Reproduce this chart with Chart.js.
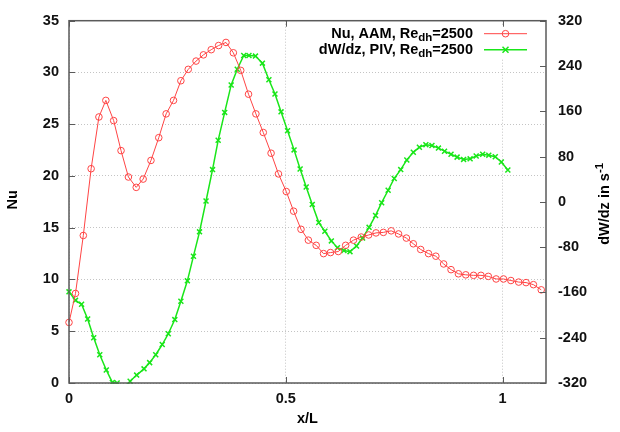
<!DOCTYPE html>
<html>
<head>
<meta charset="utf-8">
<title>Nu e dW/dz ao longo de x/L</title>
<script src="https://cdn.jsdelivr.net/npm/chart.js@4.4.1/dist/chart.umd.min.js"></script>
<style>
  body { margin: 0; background: #fff; }
  #caixa { width: 620px; height: 432px; }
</style>
</head>
<body>
<div id="caixa"><canvas id="grafico"></canvas></div>
<script>
// Nu (AAM)
const xNu = [0.000, 0.015, 0.033, 0.051, 0.069, 0.085, 0.103, 0.120, 0.137, 0.155,
  0.171, 0.189, 0.207, 0.224, 0.241, 0.258, 0.275, 0.293, 0.310, 0.328,
  0.345, 0.362, 0.379, 0.396, 0.414, 0.431, 0.448, 0.466, 0.483, 0.501,
  0.518, 0.535, 0.552, 0.570, 0.587, 0.603, 0.621, 0.638, 0.656, 0.674,
  0.691, 0.708, 0.725, 0.743, 0.760, 0.778, 0.794, 0.811, 0.829, 0.846,
  0.864, 0.881, 0.898, 0.915, 0.933, 0.950, 0.967, 0.985, 1.002, 1.019,
  1.037, 1.054, 1.071, 1.089];
const valoresNu = [5.85, 8.65, 14.25, 20.7, 25.7, 27.3, 25.35, 22.45, 19.9, 18.9,
  19.7, 21.5, 23.7, 26.0, 27.3, 29.2, 30.3, 31.1, 31.7, 32.2,
  32.6, 32.9, 31.9, 30.2, 27.9, 26.0, 24.2, 22.2, 20.2, 18.5,
  16.6, 14.85, 13.8, 13.3, 12.5, 12.6, 12.7, 13.3, 13.8, 14.1,
  14.3, 14.5, 14.55, 14.7, 14.4, 14.0, 13.45, 12.9, 12.5, 12.25,
  11.5, 10.95, 10.55, 10.45, 10.4, 10.4, 10.3, 10.05, 10.05, 9.9,
  9.75, 9.7, 9.5, 9.0];

// dW/dz (PIV) em 1/s
const xDwdz = [0.000, 0.015, 0.029, 0.043, 0.057, 0.071, 0.086, 0.100, 0.111, 0.126,
  0.141, 0.156, 0.173, 0.186, 0.200, 0.215, 0.229, 0.244, 0.258, 0.273,
  0.287, 0.301, 0.316, 0.331, 0.344, 0.359, 0.374, 0.388, 0.403, 0.415,
  0.430, 0.446, 0.461, 0.475, 0.489, 0.504, 0.519, 0.533, 0.547, 0.561,
  0.576, 0.590, 0.605, 0.619, 0.634, 0.648, 0.663, 0.677, 0.692, 0.707,
  0.721, 0.736, 0.750, 0.765, 0.779, 0.794, 0.808, 0.823, 0.837, 0.852,
  0.866, 0.881, 0.895, 0.910, 0.925, 0.939, 0.954, 0.968, 0.983, 0.997,
  1.012];
const valoresDwdz = [-159, -174, -181, -207, -240, -270, -297, -319, -320, -330,
  -317, -306, -295, -284, -270, -252, -233, -208, -175.5, -139.5,
  -96, -53, 1.5, 57, 108.7, 158, 206.5, 234.3, 258.6, 258.6,
  257.5, 245, 215.6, 190.4, 159, 125.6, 91.8, 58, 26.3, -4.5,
  -36.6, -52, -69, -81, -86, -88, -78, -64, -45, -24,
  -1.5, 20.5, 41.3, 57, 74, 87.5, 96.5, 101, 99.5, 95,
  89.5, 84, 79, 75, 76, 80.9, 84, 82.5, 79.7, 70.5,
  56.3];

const ticksX = [0, 0.5, 1];
const ticksNu = [0, 5, 10, 15, 20, 25, 30, 35];
const ticksDwdz = [-320, -240, -160, -80, 0, 80, 160, 240, 320];

const corVermelho = '#ff4444';
const corVerde = '#19e619';
const corBorda = '#5a5a5a';
const fonte = 'bold 14.5px "Liberation Sans", Arial, sans-serif';
const fonteMenor = 'bold 11.5px "Liberation Sans", Arial, sans-serif';

// escreve texto com indice (sub) ou expoente (sup)
function escreverPartes(ctx, partes, x, y, alinhar) {
  let total = 0;
  partes.forEach(p => {
    ctx.font = p.tipo ? fonteMenor : fonte;
    p.w = ctx.measureText(p.t).width;
    total += p.w;
  });
  let cx = alinhar === 'right' ? x - total : (alinhar === 'center' ? x - total / 2 : x);
  ctx.textAlign = 'left';
  ctx.textBaseline = 'middle';
  partes.forEach(p => {
    ctx.font = p.tipo ? fonteMenor : fonte;
    let dy = 0;
    if (p.tipo === 'sub') dy = 4;
    if (p.tipo === 'sup') dy = -5;
    ctx.fillText(p.t, cx, y + dy);
    cx += p.w;
  });
}

function desenharMarcador(ctx, estilo, x, y, cor) {
  ctx.strokeStyle = cor;
  ctx.beginPath();
  if (estilo === 'circle') {
    ctx.lineWidth = 1;
    ctx.arc(x, y, 3.3, 0, Math.PI * 2);
  } else {
    ctx.lineWidth = 1.5;
    ctx.moveTo(x - 3, y - 3); ctx.lineTo(x + 3, y + 3);
    ctx.moveTo(x + 3, y - 3); ctx.lineTo(x - 3, y + 3);
  }
  ctx.stroke();
}

const molduraPlugin = {
  id: 'moldura',
  afterDraw(chart) {
    const ctx = chart.ctx;
    const a = chart.chartArea;
    const sx = chart.scales.x, sy = chart.scales.y, sy2 = chart.scales.y2;
    ctx.save();

    // legenda
    ctx.fillStyle = '#fff';
    ctx.fillRect(a.right - 222, a.top + 5, 216, 33);
    chart.data.datasets.forEach((ds, i) => {
      const ly = a.top + 13 + i * 16;
      ctx.fillStyle = '#000';
      escreverPartes(ctx, ds.partesLegenda, a.right - 73, ly, 'right');
      ctx.strokeStyle = ds.borderColor;
      ctx.lineWidth = ds.borderWidth;
      ctx.beginPath();
      ctx.moveTo(a.right - 62, ly);
      ctx.lineTo(a.right - 19, ly);
      ctx.stroke();
      desenharMarcador(ctx, ds.pointStyle, a.right - 40.5, ly, ds.borderColor);
    });

    // moldura e marcas para dentro
    ctx.strokeStyle = corBorda;
    ctx.lineWidth = 1;
    ctx.beginPath();
    ticksX.forEach(v => {
      const px = Math.round(sx.getPixelForValue(v)) + 0.5;
      ctx.moveTo(px, a.bottom); ctx.lineTo(px, a.bottom - 6);
      ctx.moveTo(px, a.top); ctx.lineTo(px, a.top + 6);
    });
    ticksNu.forEach(v => {
      const py = Math.round(sy.getPixelForValue(v)) + 0.5;
      ctx.moveTo(a.left, py); ctx.lineTo(a.left + 6, py);
    });
    ticksDwdz.forEach(v => {
      const py = Math.round(sy2.getPixelForValue(v)) + 0.5;
      ctx.moveTo(a.right, py); ctx.lineTo(a.right - 6, py);
    });
    ctx.stroke();
    ctx.lineWidth = 1.5;
    ctx.strokeRect(a.left, a.top, a.right - a.left, a.bottom - a.top);

    // titulos dos eixos
    ctx.fillStyle = '#000';
    const meioY = (a.top + a.bottom) / 2;
    escreverPartes(ctx, [{ t: 'x/L' }], (a.left + a.right) / 2, 419, 'center');

    ctx.save();
    ctx.translate(13, meioY - 2);
    ctx.rotate(-Math.PI / 2);
    escreverPartes(ctx, [{ t: 'Nu' }], 0, 0, 'center');
    ctx.restore();

    ctx.save();
    ctx.translate(605, meioY + 2);
    ctx.rotate(-Math.PI / 2);
    escreverPartes(ctx, [{ t: 'dW/dz in s' }, { t: '-1', tipo: 'sup' }], 0, 0, 'center');
    ctx.restore();

    ctx.restore();
  }
};

function montarGrafico() {
  const pontosNu = xNu.map((x, i) => ({ x: x, y: valoresNu[i] }));
  const pontosDwdz = xDwdz.map((x, i) => ({ x: x, y: valoresDwdz[i] }));

  const fonteTicks = { family: '"Liberation Sans", Arial, sans-serif', size: 14.5, weight: 'bold' };
  const grade = { color: '#c4c4c4', lineWidth: 1, drawTicks: false };
  const semBorda = { display: false, dash: [1, 2] };

  new Chart(document.getElementById('grafico'), {
    type: 'line',
    data: {
      datasets: [{
        label: 'Nu, AAM, Re_dh=2500',
        partesLegenda: [{ t: 'Nu, AAM, Re' }, { t: 'dh', tipo: 'sub' }, { t: '=2500' }],
        data: pontosNu,
        yAxisID: 'y',
        borderColor: corVermelho,
        borderWidth: 1,
        pointStyle: 'circle',
        pointRadius: 3.3,
        pointBorderWidth: 1,
        pointBackgroundColor: 'rgba(0,0,0,0)',
        pointBorderColor: corVermelho,
        tension: 0,
        clip: { left: 8, right: 8, top: 8, bottom: 1 }
      },
      {
        label: 'dW/dz, PIV, Re_dh=2500',
        partesLegenda: [{ t: 'dW/dz, PIV, Re' }, { t: 'dh', tipo: 'sub' }, { t: '=2500' }],
        data: pontosDwdz,
        yAxisID: 'y2',
        borderColor: corVerde,
        borderWidth: 1.5,
        pointStyle: 'crossRot',
        pointRadius: 3.5,
        pointBorderWidth: 1.5,
        pointBorderColor: corVerde,
        tension: 0,
        clip: { left: 8, right: 8, top: 8, bottom: 1 }
      }]
    },
    options: {
      responsive: true,
      maintainAspectRatio: false,
      animation: false,
      layout: { padding: { top: 11, left: 0, right: 0, bottom: 0 } },
      plugins: {
        legend: { display: false },
        tooltip: { enabled: false }
      },
      scales: {
        x: {
          type: 'linear',
          min: 0,
          max: 1.1,
          grid: grade,
          border: semBorda,
          afterBuildTicks: s => { s.ticks = ticksX.map(v => ({ value: v })); },
          afterFit: s => { s.height = 49; },
          ticks: { font: fonteTicks, color: '#111', padding: 7, maxRotation: 0, callback: v => String(v) }
        },
        y: {
          position: 'left',
          min: 0,
          max: 35,
          grid: grade,
          border: semBorda,
          afterBuildTicks: s => { s.ticks = ticksNu.map(v => ({ value: v })); },
          afterFit: s => { s.width = 69; },
          ticks: { font: fonteTicks, color: '#111', padding: 10 }
        },
        y2: {
          position: 'right',
          min: -320,
          max: 320,
          grid: { drawOnChartArea: false, drawTicks: false },
          border: { display: false },
          afterBuildTicks: s => { s.ticks = ticksDwdz.map(v => ({ value: v })); },
          afterFit: s => { s.width = 74; },
          ticks: { font: fonteTicks, color: '#111', padding: 12 }
        }
      }
    },
    plugins: [molduraPlugin]
  });

  console.log('Grafico montado');
}

montarGrafico();
</script>
</body>
</html>
